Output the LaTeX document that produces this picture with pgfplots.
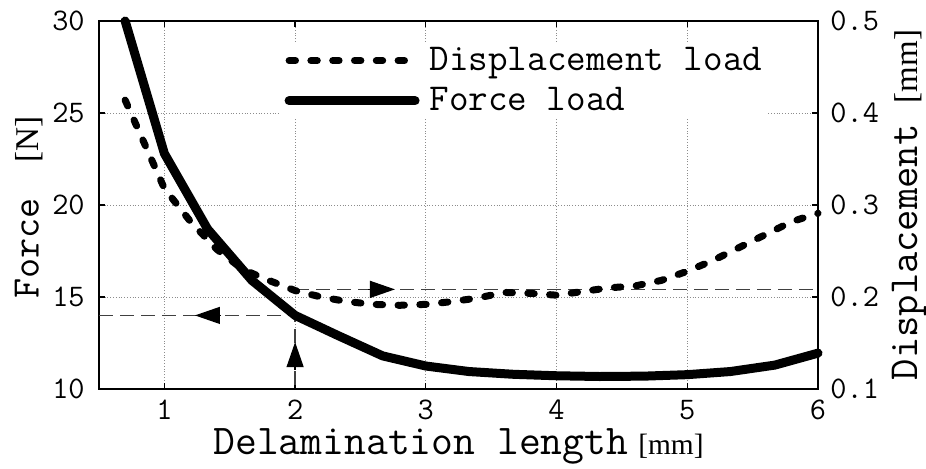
\documentclass[border=0pt]{standalone}
\usepackage{fontspec}
\usepackage{pgfplots}
\pgfplotsset{compat=1.18}
\usetikzlibrary{arrows.meta}
\newfontfamily\tms{Liberation Serif}

\pgfplotstableread{
x F
0.7 30
1.0 22.8
1.33 18.7
1.67 15.9
2.0 14.0
2.33 12.9
2.67 11.8
3.0 11.25
3.33 10.95
3.67 10.8
4.0 10.72
4.33 10.68
4.67 10.7
5.0 10.78
5.33 10.95
5.67 11.3
6.0 11.95
}\forcedata

\pgfplotstableread{
x D
0.7 0.414
1.0 0.318
1.2 0.282
1.4 0.252
1.6 0.230
1.8 0.218
2.0 0.207
2.2 0.200
2.4 0.195
2.6 0.192
2.8 0.191
3.0 0.192
3.2 0.195
3.4 0.199
3.6 0.205
3.8 0.204
4.0 0.202
4.2 0.206
4.4 0.210
4.6 0.212
4.8 0.218
5.0 0.228
5.2 0.240
5.4 0.254
5.6 0.268
5.8 0.282
6.0 0.291
}\dispdata

\begin{document}
\begin{tikzpicture}[font=\ttfamily]
\pgfplotsset{
  common/.style={
    width=359.5pt, height=184pt, scale only axis,
    xmin=0.5, xmax=6,
    clip=false,
    axis line style={line width=0.9pt},
    tick style={line width=0.6pt, black},
    major tick length=3pt,
    tick align=inside,
    /pgf/number format/assume math mode=true,
    tick label style={font=\ttfamily\fontsize{15.7}{16}\selectfont},
  },
  refline/.style={black!75, line width=0.6pt, dash pattern=on 7pt off 3.5pt},
  arr/.style={-{Triangle[length=12.5pt,width=8.5pt]}, black, line width=0.6pt},
  dispstyle/.style={black, line width=3.5pt, line cap=round, dash pattern=on 3.2pt off 7.7pt},
  forcestyle/.style={black, line width=4.5pt, line join=round, line cap=round},
}
\begin{axis}[common, name=ax,
  ymin=10, ymax=30,
  xtick={1,...,6}, ytick={10,15,...,30},
  xtick pos=both, ytick pos=left,
  grid=major,
  grid style={densely dotted, black!45, line width=0.5pt},
  xticklabel style={anchor=base, inner sep=0pt, yshift=-15pt},
  yticklabel style={anchor=east, inner sep=0pt, xshift=-7pt},
  xlabel={Delamination length{\tms\fontsize{14.7}{15}\selectfont\hspace{5pt}[mm]}},
  xlabel style={font=\ttfamily\fontsize{21.2}{22}\selectfont, at={(axis description cs:0.5,-0.1766)}, anchor=base, inner sep=0pt},
  ylabel={Force\hspace{8pt} {\tms\fontsize{16.6}{17}\selectfont[N]}},
  ylabel style={font=\ttfamily\fontsize{19.5}{20}\selectfont, at={(axis description cs:-0.084,0.493)}, anchor=base, rotate=0, inner sep=0pt},
]
\addplot[refline, forget plot] coordinates {(0.5,14) (2,14) (2,10)};
\addplot[arr, forget plot] coordinates {(1.426,14) (1.234,14)};
\addplot[arr, forget plot] coordinates {(2,11.03) (2,12.55)};
\addplot[forcestyle] table[x=x, y=F] {\forcedata};
\end{axis}
\begin{axis}[common,
  ymin=0.1, ymax=0.5,
  axis x line=none,
  axis y line*=right,
  ytick={0.1,0.2,...,0.5},
  yticklabel style={anchor=west, inner sep=0pt, xshift=6pt, /pgf/number format/.cd, fixed, fixed zerofill, precision=1},
  ylabel={Displacement {\tms\fontsize{16.5}{17}\selectfont[mm]}},
  ylabel style={font=\ttfamily\fontsize{20.7}{22}\selectfont, at={(axis description cs:1.1377,0.5)}, anchor=base, rotate=0},
  legend style={at={(axis description cs:0.252,0.940)}, anchor=north west, draw=none, fill=white, inner sep=2pt,
    font=\ttfamily\fontsize{19}{20}\selectfont, row sep=7pt, column sep=5pt, nodes={inner sep=0pt}},
  legend cell align=left,
  legend image code/.code={\draw[#1] (0pt,0pt) -- (63pt,0pt);},
]
\addplot[refline, forget plot] coordinates {(2,0.2083) (6,0.2083)};
\addplot[arr, forget plot] coordinates {(2.558,0.2083) (2.764,0.2083)};
\addplot[dispstyle] table[x=x, y=D] {\dispdata};
\addlegendentry{Displacement load}
\addlegendimage{forcestyle}
\addlegendentry{Force load}
\end{axis}
\path (ax.south west) ++(-49.5pt,-39.5pt) coordinate (bl);
\path (ax.north east) ++(54pt,10.5pt) coordinate (tr);
\pgfresetboundingbox
\useasboundingbox (bl) rectangle (tr);
\end{tikzpicture}
\end{document}
